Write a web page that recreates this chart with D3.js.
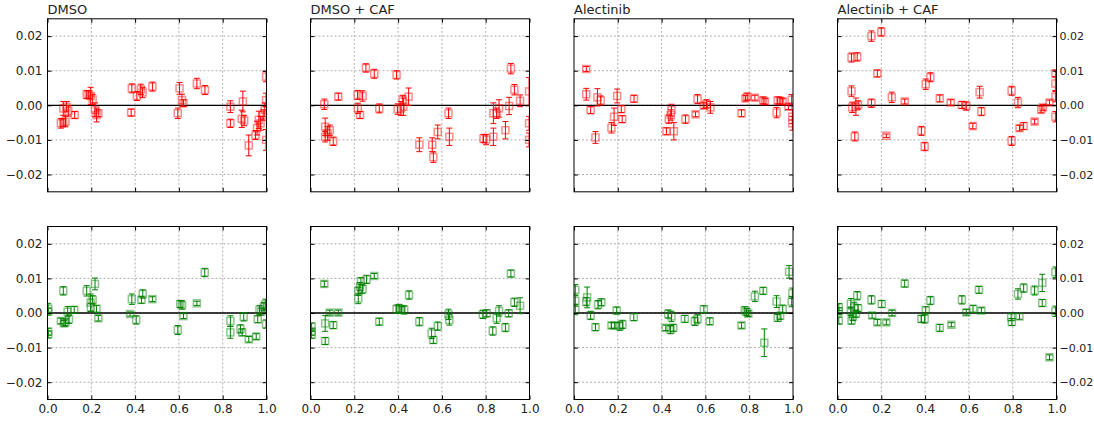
<!DOCTYPE html>
<html>
<head>
<meta charset="utf-8">
<script src="https://cdn.jsdelivr.net/npm/d3@7"></script>
<style>
  body { margin: 0; background: #fff; }
  svg { font-family: "DejaVu Sans", sans-serif; }
</style>
</head>
<body>
<div id="chart"></div>
<script>
// panel titles and tick values
var titles = ["DMSO", "DMSO + CAF", "Alectinib", "Alectinib + CAF"];
var xTicks = [0, 0.2, 0.4, 0.6, 0.8, 1.0];
var yTicks = [-0.02, -0.01, 0, 0.01, 0.02];

// each point: [x, y, error]
var dmsoRed = [[0.061,-0.0052,0.0014],[0.072,-0.0050,0.0012],[0.072,-0.0009,0.002],[0.082,-0.0047,0.0015],[0.087,-0.0004,0.0015],[0.095,-0.0016,0.0015],[0.124,-0.0028,0.001],[0.179,0.0031,0.0012],[0.188,0.0031,0.0012],[0.197,0.0027,0.0025],[0.206,0.0017,0.0015],[0.217,-0.0013,0.002],[0.224,-0.0028,0.002],[0.232,-0.0023,0.001],[0.382,-0.0021,0.001],[0.385,0.0049,0.0013],[0.408,0.0027,0.0013],[0.426,0.0046,0.0015],[0.434,0.0037,0.0015],[0.479,0.0054,0.0013],[0.595,-0.0023,0.0015],[0.603,0.0049,0.0017],[0.614,0.0015,0.0017],[0.621,0.0006,0.001],[0.682,0.0063,0.0015],[0.719,0.0044,0.0013],[0.835,-0.0004,0.0017],[0.835,-0.0052,0.0012],[0.892,0.0011,0.003],[0.887,-0.0039,0.0025],[0.898,-0.0044,0.0015],[0.919,-0.0116,0.003],[0.950,-0.0086,0.0013],[0.957,-0.0066,0.002],[0.965,-0.0042,0.0025],[0.973,-0.0052,0.002],[0.985,-0.0028,0.0015],[0.992,-0.0013,0.002],[0.998,0.0015,0.002],[0.998,0.0083,0.0015],[0.998,-0.0100,0.003]];
var dmsoCafRed = [[0.063,0.0003,0.0015],[0.067,-0.0062,0.0025],[0.067,-0.0091,0.0015],[0.078,-0.0081,0.002],[0.088,-0.0072,0.0015],[0.104,-0.0104,0.0012],[0.127,0.0025,0.001],[0.215,0.0030,0.0013],[0.238,0.0027,0.0015],[0.216,-0.0009,0.0015],[0.226,-0.0028,0.001],[0.253,0.0108,0.0012],[0.291,0.0091,0.0013],[0.314,-0.0009,0.0013],[0.393,0.0088,0.0012],[0.398,-0.0011,0.0015],[0.413,-0.0009,0.002],[0.424,-0.0004,0.0025],[0.421,0.0016,0.0013],[0.448,0.0025,0.0025],[0.497,-0.0114,0.002],[0.556,-0.0114,0.002],[0.561,-0.0150,0.0015],[0.581,-0.0077,0.002],[0.630,-0.0023,0.0015],[0.634,-0.0091,0.0025],[0.790,-0.0096,0.0012],[0.802,-0.0099,0.0015],[0.835,-0.0091,0.0025],[0.835,-0.0023,0.003],[0.850,-0.0023,0.0015],[0.861,-0.0009,0.0025],[0.890,-0.0072,0.0025],[0.907,-0.0002,0.0025],[0.915,0.0106,0.0015],[0.931,0.0045,0.0015],[0.957,0.0013,0.0017],[0.998,0.0040,0.004],[0.998,-0.0052,0.002],[0.998,-0.0100,0.002]];
var alectinibRed = [[0.056,0.0105,0.0007],[0.056,0.0032,0.0017],[0.076,-0.0014,0.001],[0.098,-0.0093,0.0017],[0.107,0.0023,0.0025],[0.122,0.0014,0.0013],[0.171,-0.0065,0.0015],[0.183,-0.0033,0.0025],[0.197,0.0027,0.002],[0.216,-0.0011,0.001],[0.220,-0.0040,0.001],[0.274,0.0019,0.001],[0.422,-0.0075,0.001],[0.433,-0.0040,0.0012],[0.442,-0.0028,0.0015],[0.445,-0.0014,0.0017],[0.456,-0.0075,0.0025],[0.509,-0.0040,0.0012],[0.555,-0.0026,0.0007],[0.564,0.0018,0.0013],[0.593,-0.0001,0.0008],[0.605,0.0004,0.0012],[0.623,-0.0006,0.0017],[0.765,-0.0023,0.001],[0.783,0.0020,0.0008],[0.791,0.0025,0.001],[0.826,0.0022,0.0007],[0.864,0.0014,0.001],[0.872,0.0011,0.0008],[0.925,-0.0021,0.0015],[0.930,0.0014,0.001],[0.941,0.0013,0.001],[0.953,0.0011,0.0008],[0.979,-0.0004,0.0008],[0.994,0.0016,0.0015],[0.997,-0.0033,0.002],[0.997,-0.0052,0.002]];
var alectinibCafRed = [[0.064,0.0138,0.0013],[0.090,0.0140,0.0012],[0.064,0.0041,0.0015],[0.067,-0.0006,0.0015],[0.084,-0.0004,0.0025],[0.094,0.0001,0.0012],[0.079,-0.0090,0.0013],[0.155,0.0200,0.0015],[0.200,0.0212,0.0012],[0.182,0.0092,0.001],[0.155,0.0006,0.0012],[0.223,-0.0088,0.0005],[0.248,0.0023,0.0015],[0.307,0.0011,0.0007],[0.383,-0.0074,0.0013],[0.398,-0.0119,0.0012],[0.403,0.0061,0.0015],[0.424,0.0081,0.0013],[0.467,0.0020,0.001],[0.517,0.0008,0.0008],[0.568,0.0001,0.001],[0.588,-0.0002,0.0012],[0.618,-0.0060,0.0008],[0.649,0.0038,0.0017],[0.657,-0.0018,0.0012],[0.795,0.0042,0.0013],[0.795,-0.0103,0.0013],[0.824,0.0008,0.0015],[0.831,-0.0066,0.0008],[0.850,-0.0060,0.001],[0.900,-0.0047,0.0007],[0.930,-0.0012,0.001],[0.938,-0.0006,0.0008],[0.968,0.0008,0.0007],[0.995,0.0025,0.0015],[0.995,0.0063,0.002],[0.995,0.0092,0.001],[0.995,-0.0033,0.0015]];
var dmsoGreen = [[0.003,0.0013,0.0015],[0.003,0.0004,0.001],[0.003,-0.0054,0.001],[0.003,-0.0062,0.001],[0.061,-0.0023,0.0008],[0.072,0.0064,0.0012],[0.075,-0.0030,0.0008],[0.082,-0.0027,0.001],[0.092,0.0004,0.0015],[0.098,-0.0018,0.0012],[0.122,0.0009,0.001],[0.179,0.0064,0.0015],[0.197,0.0030,0.0025],[0.198,0.0016,0.0012],[0.206,0.0038,0.0012],[0.217,0.0084,0.0017],[0.224,0.0012,0.001],[0.232,-0.0015,0.0008],[0.377,-0.0003,0.0006],[0.385,0.0040,0.0015],[0.405,-0.0020,0.0012],[0.429,0.0038,0.001],[0.435,0.0055,0.0012],[0.479,0.0040,0.0007],[0.595,-0.0049,0.0013],[0.606,0.0026,0.001],[0.614,0.0023,0.0012],[0.621,-0.0009,0.0007],[0.682,0.0028,0.0006],[0.718,0.0117,0.0012],[0.835,-0.0023,0.0015],[0.835,-0.0056,0.0017],[0.881,-0.0046,0.0012],[0.889,-0.0056,0.001],[0.896,-0.0011,0.0012],[0.919,-0.0076,0.0008],[0.953,-0.0068,0.0008],[0.960,-0.0018,0.001],[0.968,0.0009,0.0013],[0.976,0.0004,0.001],[0.988,0.0018,0.0012],[0.995,0.0025,0.0015],[0.998,-0.0032,0.0012]];
var dmsoCafGreen = [[0.005,-0.0039,0.001],[0.005,-0.0054,0.001],[0.005,-0.0063,0.001],[0.063,0.0084,0.0008],[0.067,-0.0030,0.0023],[0.067,-0.0081,0.001],[0.088,0.0001,0.0007],[0.104,-0.0035,0.001],[0.127,0.0001,0.0007],[0.218,0.0042,0.0015],[0.218,0.0063,0.0012],[0.226,0.0076,0.0012],[0.230,0.0092,0.001],[0.238,0.0069,0.0012],[0.256,0.0097,0.0012],[0.291,0.0107,0.0007],[0.314,-0.0025,0.001],[0.393,0.0011,0.0012],[0.405,0.0013,0.0012],[0.416,0.0009,0.001],[0.428,0.0009,0.0012],[0.450,0.0052,0.0012],[0.497,-0.0025,0.0012],[0.553,-0.0059,0.0015],[0.561,-0.0078,0.001],[0.581,-0.0038,0.0012],[0.630,-0.0004,0.0015],[0.634,-0.0020,0.0015],[0.787,-0.0004,0.0012],[0.805,-0.0001,0.001],[0.832,-0.0052,0.0012],[0.850,-0.0015,0.0015],[0.861,0.0006,0.0015],[0.890,-0.0042,0.0012],[0.905,-0.0001,0.001],[0.915,0.0114,0.001],[0.931,0.0031,0.0012],[0.957,0.0021,0.0023]];
var alectinibGreen = [[0.006,0.0067,0.0015],[0.006,0.0035,0.0015],[0.006,0.0010,0.0015],[0.056,0.0033,0.0012],[0.060,0.0045,0.003],[0.076,-0.0007,0.0012],[0.098,-0.0041,0.001],[0.110,0.0024,0.0012],[0.125,0.0031,0.001],[0.171,-0.0036,0.0008],[0.186,-0.0036,0.0008],[0.195,0.0007,0.001],[0.209,-0.0038,0.0012],[0.221,-0.0033,0.0012],[0.273,-0.0012,0.001],[0.419,-0.0043,0.0008],[0.430,-0.0003,0.0012],[0.441,-0.0048,0.0012],[0.445,-0.0010,0.0015],[0.453,-0.0043,0.001],[0.506,-0.0017,0.001],[0.552,-0.0024,0.0012],[0.564,-0.0017,0.0012],[0.593,0.0011,0.001],[0.620,-0.0024,0.001],[0.765,-0.0036,0.0008],[0.780,0.0008,0.001],[0.788,0.0003,0.001],[0.796,-0.0002,0.0008],[0.826,0.0048,0.0015],[0.864,0.0064,0.001],[0.869,-0.0086,0.004],[0.925,0.0033,0.0017],[0.930,-0.0014,0.001],[0.941,-0.0008,0.001],[0.953,0.0011,0.0012],[0.982,0.0119,0.0018],[0.994,0.0033,0.0015],[0.997,0.0057,0.0015]];
var alectinibCafGreen = [[0.006,0.0017,0.001],[0.006,0.0005,0.001],[0.006,-0.0022,0.001],[0.061,0.0027,0.0015],[0.061,0.0005,0.0012],[0.064,-0.0022,0.001],[0.071,-0.0010,0.0012],[0.076,0.0016,0.0015],[0.084,-0.0002,0.001],[0.090,0.0050,0.0012],[0.094,0.0014,0.001],[0.155,0.0038,0.0012],[0.158,-0.0007,0.0008],[0.182,-0.0027,0.0008],[0.202,0.0026,0.001],[0.223,-0.0027,0.0007],[0.249,0.0000,0.0008],[0.307,0.0085,0.001],[0.383,-0.0017,0.001],[0.398,-0.0017,0.0012],[0.403,0.0008,0.001],[0.424,0.0036,0.0012],[0.467,-0.0043,0.001],[0.520,-0.0034,0.0006],[0.568,0.0038,0.0012],[0.588,0.0002,0.0008],[0.619,0.0012,0.001],[0.646,0.0067,0.001],[0.657,0.0007,0.0008],[0.793,-0.0012,0.001],[0.796,-0.0026,0.001],[0.824,0.0055,0.0015],[0.831,-0.0010,0.0008],[0.850,0.0072,0.0012],[0.900,0.0065,0.0013],[0.935,0.0087,0.0025],[0.935,0.0029,0.001],[0.968,-0.0128,0.0007],[0.995,0.0118,0.0015],[0.995,0.0005,0.0015]];

var rows = [
  { color: "#ff0000", sets: [dmsoRed, dmsoCafRed, alectinibRed, alectinibCafRed] },
  { color: "#008000", sets: [dmsoGreen, dmsoCafGreen, alectinibGreen, alectinibCafGreen] }
];

var width = 1094, height = 421;
var svg = d3.select("#chart").append("svg")
  .attr("width", width)
  .attr("height", height);

// panel geometry
var pw = 219, ph = 173;
var lefts = [47.5, 310.5, 574, 837.5];
var tops = [18.8, 226.5];

var x = d3.scaleLinear().domain([0, 1]).range([0, pw]);
var y = d3.scaleLinear().domain([-0.025, 0.025]).range([ph, 0]);
var fmtY = function(d) { return d3.format(".2f")(d); };
var fmtX = d3.format(".1f");

svg.append("defs").append("clipPath").attr("id", "clip")
  .append("rect").attr("width", pw).attr("height", ph);

rows.forEach(function(row, r) {
  row.sets.forEach(function(data, c) {
    var g = svg.append("g")
      .attr("transform", "translate(" + lefts[c] + "," + tops[r] + ")");

    // dotted grid
    g.append("g").selectAll("line.gx")
      .data(xTicks.slice(1, -1))
      .enter().append("line")
      .attr("x1", function(d) { return x(d); })
      .attr("x2", function(d) { return x(d); })
      .attr("y1", 0).attr("y2", ph)
      .attr("stroke", "#b0b0b0").attr("stroke-dasharray", "2,2");
    g.append("g").selectAll("line.gy")
      .data(yTicks)
      .enter().append("line")
      .attr("y1", function(d) { return y(d); })
      .attr("y2", function(d) { return y(d); })
      .attr("x1", 0).attr("x2", pw)
      .attr("stroke", "#b0b0b0").attr("stroke-dasharray", "2,2");

    // zero line
    g.append("line")
      .attr("x1", 0).attr("x2", pw)
      .attr("y1", y(0)).attr("y2", y(0))
      .attr("stroke", "#000").attr("stroke-width", 1.3);

    var marks = g.append("g").attr("clip-path", "url(#clip)");
    var pts = marks.selectAll("g.pt")
      .data(data)
      .enter().append("g");

    pts.append("line")
      .attr("x1", function(d) { return x(d[0]); })
      .attr("x2", function(d) { return x(d[0]); })
      .attr("y1", function(d) { return y(d[1] - d[2]); })
      .attr("y2", function(d) { return y(d[1] + d[2]); })
      .attr("stroke", row.color).attr("stroke-width", 1);
    [-1, 1].forEach(function(s) {
      pts.append("line")
        .attr("x1", function(d) { return x(d[0]) - 3; })
        .attr("x2", function(d) { return x(d[0]) + 3; })
        .attr("y1", function(d) { return y(d[1] + s * d[2]); })
        .attr("y2", function(d) { return y(d[1] + s * d[2]); })
        .attr("stroke", row.color).attr("stroke-width", 1);
    });
    pts.append("rect")
      .attr("x", function(d) { return x(d[0]) - 3.5; })
      .attr("y", function(d) { return y(d[1]) - 3.5; })
      .attr("width", 7).attr("height", 7)
      .attr("fill", "none")
      .attr("stroke", row.color)
      .attr("stroke-opacity", 0.45)
      .attr("stroke-width", 1.5);

    // axes with inward ticks
    var left = d3.axisLeft(y).tickValues(yTicks).tickSizeInner(-4).tickSizeOuter(0).tickPadding(5)
      .tickFormat(c === 0 ? fmtY : "");
    var right = d3.axisRight(y).tickValues(yTicks).tickSizeInner(-4).tickSizeOuter(0).tickPadding(3)
      .tickFormat(c === 3 ? fmtY : "");
    var bottom = d3.axisBottom(x).tickValues(xTicks).tickSizeInner(-4).tickSizeOuter(0).tickPadding(5)
      .tickFormat(r === 1 ? fmtX : "");
    var topAx = d3.axisTop(x).tickValues(xTicks).tickSizeInner(-4).tickSizeOuter(0).tickFormat("");

    var axes = [
      g.append("g").call(left),
      g.append("g").attr("class", "right").attr("transform", "translate(" + pw + ",0)").call(right),
      g.append("g").attr("transform", "translate(0," + ph + ")").call(bottom),
      g.append("g").call(topAx)
    ];
    axes.forEach(function(ax) {
      ax.select(".domain").remove();
      ax.selectAll(".tick line").attr("stroke", "#000");
      ax.selectAll("text").attr("fill", "#222").style("font-size", "12px")
        .style("font-family", "DejaVu Sans, sans-serif");
    });
    // right-hand labels sit against the page edge
    axes[1].selectAll("text").style("font-size", "11px");

    // frame
    g.append("rect")
      .attr("width", pw).attr("height", ph)
      .attr("fill", "none").attr("stroke", "#000").attr("stroke-width", 1);

    if (r === 0) {
      g.append("text")
        .attr("x", 0).attr("y", -5)
        .attr("fill", "#222")
        .style("font-size", "13px")
        .text(titles[c]);
    }
  });
});
</script>
</body>
</html>
